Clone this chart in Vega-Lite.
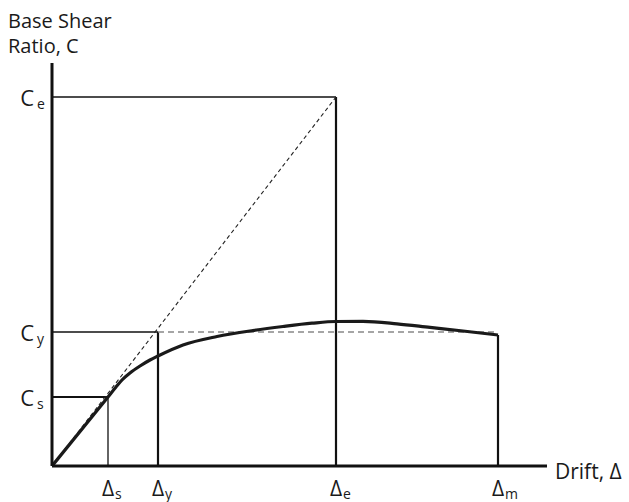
{
  "$schema": "https://vega.github.io/schema/vega-lite/v6.json",
  "width": 495,
  "height": 403,
  "autosize": "none",
  "padding": {"left": 52, "top": 63, "right": 82, "bottom": 36},
  "background": "white",
  "config": {"view": {"stroke": null}},
  "datasets": {
    "curve": [
      {"drift": 0, "c": 0}, {"drift": 56, "c": 69}, {"drift": 64, "c": 79},
      {"drift": 70, "c": 86}, {"drift": 78, "c": 93}, {"drift": 88, "c": 100},
      {"drift": 98, "c": 106}, {"drift": 106, "c": 110}, {"drift": 131, "c": 121},
      {"drift": 165, "c": 129.5}, {"drift": 201, "c": 135.5}, {"drift": 231, "c": 139.5},
      {"drift": 260, "c": 142.8}, {"drift": 284, "c": 144.5}, {"drift": 311, "c": 144.6},
      {"drift": 345, "c": 142.2}, {"drift": 378, "c": 138.6}, {"drift": 411, "c": 135}, 
      {"drift": 446, "c": 131}
    ],
    "axes": [
      {"x": 0, "x2": 0, "y": 0, "y2": 403},
      {"x": 0, "x2": 495, "y": 0, "y2": 0}
    ],
    "thin": [
      {"x": 0, "x2": 284, "y": 369, "y2": 369},
      {"x": 0, "x2": 106, "y": 134, "y2": 134},
      {"x": 56, "x2": 56, "y": 0, "y2": 69}
    ],
    "medium": [
      {"x": 284, "x2": 284, "y": 0, "y2": 369},
      {"x": 106, "x2": 106, "y": 0, "y2": 134},
      {"x": 0, "x2": 56, "y": 69, "y2": 69},
      {"x": 446, "x2": 446, "y": 0, "y2": 131}
    ],
    "diag": [{"x": 0, "x2": 284, "y": 0, "y2": 369}],
    "cyline": [{"x": 106, "x2": 446, "y": 134, "y2": 134}],
    "cLabels": [
      {"y": 369, "sub": "e"}, {"y": 134, "sub": "y"}, {"y": 69, "sub": "s"}
    ],
    "dLabels": [
      {"x": 56, "sub": "s"}, {"x": 106, "sub": "y"}, {"x": 284, "sub": "e"}, {"x": 446, "sub": "m"}
    ],
    "titles": [{"x": 0, "y": 403}]
  },
  "layer": [
    {
      "data": {"name": "thin"},
      "mark": {"type": "rule", "color": "#111", "strokeWidth": 1.3},
      "encoding": {
        "x": {"field": "x", "type": "quantitative", "scale": {"domain": [0, 495], "nice": false, "zero": false}, "axis": null},
        "x2": {"field": "x2"},
        "y": {"field": "y", "type": "quantitative", "scale": {"domain": [0, 403], "nice": false, "zero": false}, "axis": null},
        "y2": {"field": "y2"}
      }
    },
    {
      "data": {"name": "medium"},
      "mark": {"type": "rule", "color": "#111", "strokeWidth": 2.2},
      "encoding": {
        "x": {"field": "x", "type": "quantitative"},
        "x2": {"field": "x2"},
        "y": {"field": "y", "type": "quantitative"},
        "y2": {"field": "y2"}
      }
    },
    {
      "data": {"name": "diag"},
      "mark": {"type": "rule", "color": "#222", "strokeWidth": 1.1, "strokeDash": [4, 3]},
      "encoding": {
        "x": {"field": "x", "type": "quantitative"},
        "x2": {"field": "x2"},
        "y": {"field": "y", "type": "quantitative"},
        "y2": {"field": "y2"}
      }
    },
    {
      "data": {"name": "cyline"},
      "mark": {"type": "rule", "color": "#888", "strokeWidth": 1.6, "strokeDash": [6, 4]},
      "encoding": {
        "x": {"field": "x", "type": "quantitative"},
        "x2": {"field": "x2"},
        "y": {"field": "y", "type": "quantitative"},
        "y2": {"field": "y2"}
      }
    },
    {
      "data": {"name": "curve"},
      "mark": {"type": "line", "color": "#1a1a1a", "strokeWidth": 3.2, "interpolate": "monotone"},
      "encoding": {
        "x": {"field": "drift", "type": "quantitative"},
        "y": {"field": "c", "type": "quantitative"}
      }
    },
    {
      "data": {"name": "axes"},
      "mark": {"type": "rule", "color": "#111", "strokeWidth": 3},
      "encoding": {
        "x": {"field": "x", "type": "quantitative"},
        "x2": {"field": "x2"},
        "y": {"field": "y", "type": "quantitative"},
        "y2": {"field": "y2"}
      }
    },
    {
      "data": {"name": "cLabels"},
      "mark": {"type": "text", "text": "C", "font": "Open Sans", "fontSize": 22, "align": "right", "baseline": "alphabetic", "dx": -18, "dy": 9, "color": "#1a1a1a"},
      "encoding": {
        "x": {"datum": 0, "type": "quantitative"},
        "y": {"field": "y", "type": "quantitative"}
      }
    },
    {
      "data": {"name": "cLabels"},
      "mark": {"type": "text", "font": "Open Sans", "fontSize": 14, "align": "left", "baseline": "alphabetic", "dx": -15, "dy": 12, "color": "#1a1a1a"},
      "encoding": {
        "x": {"datum": 0, "type": "quantitative"},
        "y": {"field": "y", "type": "quantitative"},
        "text": {"field": "sub"}
      }
    },
    {
      "data": {"name": "dLabels"},
      "mark": {"type": "text", "text": "Δ", "font": "Open Sans", "fontSize": 21, "align": "center", "baseline": "alphabetic", "dx": 0, "dy": 30, "color": "#1a1a1a"},
      "encoding": {
        "x": {"field": "x", "type": "quantitative"},
        "y": {"datum": 0, "type": "quantitative"}
      }
    },
    {
      "data": {"name": "dLabels"},
      "mark": {"type": "text", "font": "Open Sans", "fontSize": 14, "align": "left", "baseline": "alphabetic", "dx": 7, "dy": 33, "color": "#1a1a1a"},
      "encoding": {
        "x": {"field": "x", "type": "quantitative"},
        "y": {"datum": 0, "type": "quantitative"},
        "text": {"field": "sub"}
      }
    },
    {
      "data": {"name": "titles"},
      "mark": {"type": "text", "text": "Base Shear", "font": "Open Sans", "fontSize": 20, "align": "left", "baseline": "alphabetic", "dx": -44, "dy": -35, "color": "#1a1a1a"},
      "encoding": {
        "x": {"field": "x", "type": "quantitative"},
        "y": {"field": "y", "type": "quantitative"}
      }
    },
    {
      "data": {"name": "titles"},
      "mark": {"type": "text", "text": "Ratio, C", "font": "Open Sans", "fontSize": 20, "align": "left", "baseline": "alphabetic", "dx": -44, "dy": -10, "color": "#1a1a1a"},
      "encoding": {
        "x": {"field": "x", "type": "quantitative"},
        "y": {"field": "y", "type": "quantitative"}
      }
    },
    {
      "data": {"name": "titles"},
      "mark": {"type": "text", "text": "Drift, Δ", "font": "Open Sans", "fontSize": 21, "align": "left", "baseline": "alphabetic", "dx": 8, "dy": 13, "color": "#1a1a1a"},
      "encoding": {
        "x": {"datum": 495, "type": "quantitative"},
        "y": {"datum": 0, "type": "quantitative"}
      }
    }
  ]
}
